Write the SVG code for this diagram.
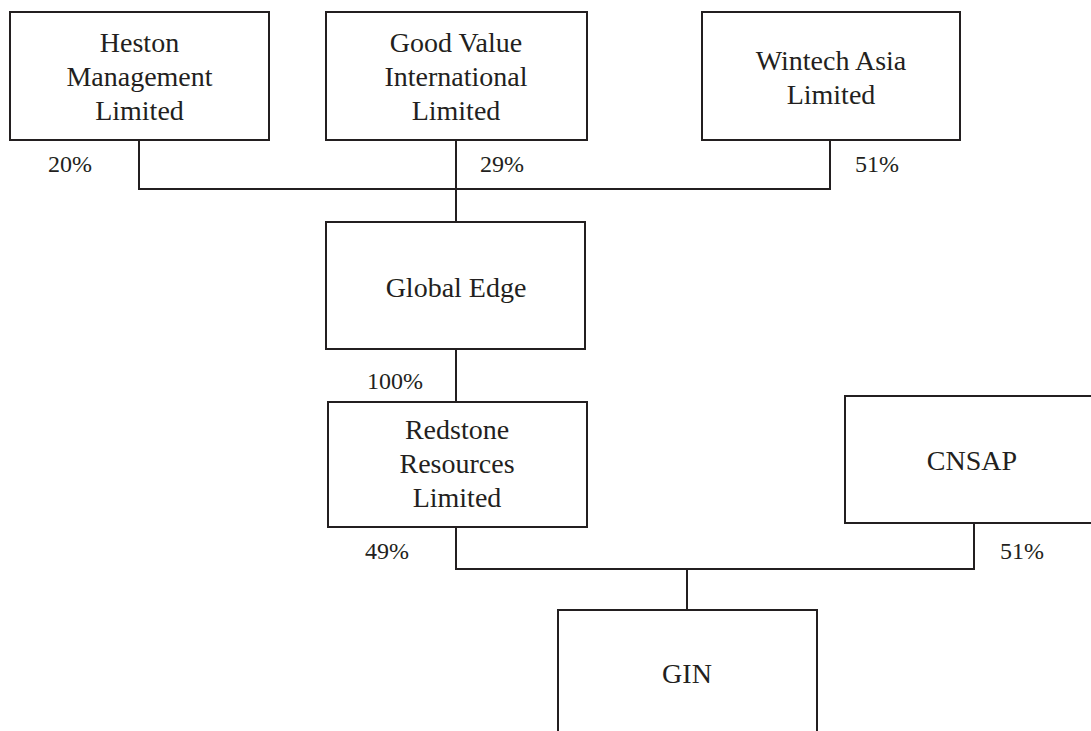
<svg xmlns="http://www.w3.org/2000/svg" width="1091" height="731" viewBox="0 0 1091 731">
<style>
.box{fill:#fff;stroke:#231f20;stroke-width:2}
.ln{fill:none;stroke:#231f20;stroke-width:2}
.t{font-family:"Liberation Serif","Times New Roman",serif;font-size:28px;fill:#231f20;text-anchor:middle}
.p{font-family:"Liberation Serif","Times New Roman",serif;font-size:24px;fill:#231f20}
</style>
<rect width="1091" height="731" fill="#fff"/>
<g id="connectors">
<polyline class="ln" points="139,140 139,189 830,189 830,140"/>
<line class="ln" x1="456" y1="140" x2="456" y2="222"/>
<line class="ln" x1="456" y1="349" x2="456" y2="402"/>
<polyline class="ln" points="456,527 456,569 974,569 974,523"/>
<line class="ln" x1="687" y1="569" x2="687" y2="610"/>
<text class="p" x="48" y="172">20%</text>
<text class="p" x="480" y="172">29%</text>
<text class="p" x="855" y="172">51%</text>
<text class="p" x="367" y="389">100%</text>
<text class="p" x="365" y="559">49%</text>
<text class="p" x="1000" y="559">51%</text>
</g>
<g id="heston">
<rect class="box" x="10" y="12" width="259" height="128"/>
<text class="t" x="139.5" y="52">Heston</text>
<text class="t" x="139.5" y="86">Management</text>
<text class="t" x="139.5" y="120">Limited</text>
</g>
<g id="goodvalue">
<rect class="box" x="326" y="12" width="261" height="128"/>
<text class="t" x="456" y="52">Good Value</text>
<text class="t" x="456" y="86">International</text>
<text class="t" x="456" y="120">Limited</text>
</g>
<g id="wintech">
<rect class="box" x="702" y="12" width="258" height="128"/>
<text class="t" x="831" y="70">Wintech Asia</text>
<text class="t" x="831" y="104">Limited</text>
</g>
<g id="globaledge">
<rect class="box" x="326" y="222" width="259" height="127"/>
<text class="t" x="456" y="297">Global Edge</text>
</g>
<g id="redstone">
<rect class="box" x="328" y="402" width="259" height="125"/>
<text class="t" x="457" y="439">Redstone</text>
<text class="t" x="457" y="473">Resources</text>
<text class="t" x="457" y="507">Limited</text>
</g>
<g id="cnsap">
<rect class="box" x="845" y="396" width="258" height="127"/>
<text class="t" x="972" y="470">CNSAP</text>
</g>
<g id="gin">
<rect class="box" x="558" y="610" width="259" height="140"/>
<text class="t" x="687" y="683">GIN</text>
</g>
</svg>
